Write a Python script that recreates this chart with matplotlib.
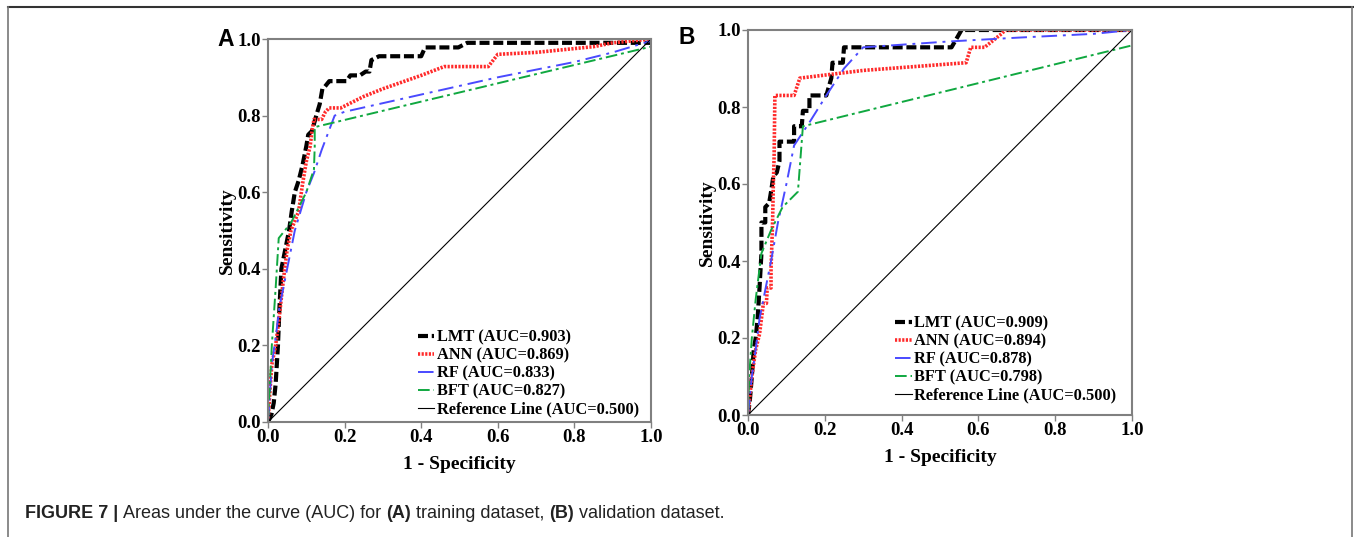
import matplotlib
matplotlib.use('Agg')
import matplotlib.pyplot as plt
from matplotlib.lines import Line2D

# ---- data: panel A (training) ----
lmt_a_x = [0, 0.009, 0.015, 0.02, 0.026, 0.03, 0.035, 0.045, 0.055, 0.062, 0.07, 0.08, 0.09, 0.1, 0.105,
           0.115, 0.126, 0.135, 0.142, 0.148, 0.16, 0.165, 0.205, 0.215, 0.24, 0.255, 0.265, 0.27, 0.29,
           0.4, 0.41, 0.497, 0.52, 1.0, 1.0]
lmt_a_y = [0, 0.02, 0.05, 0.1, 0.2, 0.3, 0.4, 0.45, 0.5, 0.55, 0.6, 0.63, 0.67, 0.72, 0.75,
           0.76, 0.8, 0.83, 0.87, 0.875, 0.89, 0.89, 0.89, 0.905, 0.905, 0.915, 0.915, 0.945, 0.955,
           0.955, 0.978, 0.978, 0.99, 0.99, 1.0]
ann_a_x = [0, 0.005, 0.01, 0.02, 0.03, 0.04, 0.05, 0.06, 0.08, 0.09, 0.1, 0.11, 0.115, 0.12, 0.14, 0.15,
           0.16, 0.19, 0.25, 0.3, 0.4, 0.46, 0.575, 0.6, 0.7, 0.85, 0.9, 1.0]
ann_a_y = [0, 0.08, 0.15, 0.2, 0.28, 0.37, 0.45, 0.5, 0.55, 0.62, 0.68, 0.72, 0.76, 0.79, 0.79, 0.81,
           0.82, 0.82, 0.85, 0.87, 0.905, 0.928, 0.928, 0.96, 0.965, 0.98, 0.99, 1.0]
rf_a_x = [0, 0.01, 0.02, 0.03, 0.05, 0.07, 0.1, 0.12, 0.14, 0.174, 0.2, 0.4, 0.6, 0.8, 0.9, 1.0]
rf_a_y = [0, 0.15, 0.22, 0.3, 0.4, 0.5, 0.6, 0.65, 0.71, 0.8, 0.81, 0.855, 0.9, 0.94, 0.965, 0.995]
bft_a_x = [0, 0.005, 0.01, 0.02, 0.028, 0.06, 0.1, 0.12, 0.122, 0.122, 1.0, 1.0]
bft_a_y = [0, 0.1, 0.2, 0.35, 0.48, 0.52, 0.6, 0.66, 0.72, 0.77, 0.98, 1.0]

# ---- data: panel B (validation) ----
lmt_b_x = [0, 0.005, 0.01, 0.015, 0.02, 0.025, 0.03, 0.035, 0.035, 0.045, 0.045, 0.055, 0.06, 0.066,
           0.075, 0.082, 0.082, 0.12, 0.12, 0.14, 0.143, 0.16, 0.16, 0.204, 0.217, 0.22, 0.247, 0.25,
           0.53, 0.556, 1.0]
lmt_b_y = [0, 0.04, 0.1, 0.17, 0.2, 0.25, 0.33, 0.42, 0.5, 0.5, 0.54, 0.55, 0.58, 0.62, 0.63, 0.66,
           0.71, 0.71, 0.75, 0.75, 0.79, 0.79, 0.83, 0.83, 0.875, 0.915, 0.915, 0.955, 0.955, 1.0, 1.0]
ann_b_x = [0, 0.005, 0.01, 0.02, 0.03, 0.035, 0.04, 0.048, 0.05, 0.06, 0.06, 0.064, 0.066, 0.068, 0.07,
           0.12, 0.135, 0.3, 0.568, 0.58, 0.616, 0.66, 0.67, 1.0]
ann_b_y = [0, 0.05, 0.1, 0.17, 0.21, 0.25, 0.29, 0.29, 0.33, 0.33, 0.38, 0.5, 0.6, 0.67, 0.83,
           0.83, 0.875, 0.895, 0.915, 0.955, 0.955, 0.99, 1.0, 1.0]
rf_b_x = [0, 0.01, 0.02, 0.03, 0.04, 0.06, 0.078, 0.1, 0.12, 0.16, 0.204, 0.25, 0.3, 0.52, 0.7, 0.9, 1.0]
rf_b_y = [0, 0.1, 0.17, 0.25, 0.3, 0.4, 0.5, 0.6, 0.7, 0.76, 0.83, 0.9, 0.955, 0.97, 0.98, 0.99, 1.0]
bft_b_x = [0, 0.003, 0.01, 0.02, 0.035, 0.06, 0.09, 0.13, 0.143, 1.0, 1.0]
bft_b_y = [0, 0.1, 0.2, 0.3, 0.42, 0.48, 0.54, 0.58, 0.75, 0.96, 1.0]

auc_a = ['0.903', '0.869', '0.833', '0.827']
auc_b = ['0.909', '0.894', '0.878', '0.798']
models = ['LMT', 'ANN', 'RF', 'BFT']
ticks = [0.0, 0.2, 0.4, 0.6, 0.8, 1.0]

styles = [dict(color='black', lw=3.0, ls=(0, (2.4, 0.9))),
          dict(color='#ff2a2a', lw=2.6, ls=(0, (0.6, 0.4))),
          dict(color='#4a4aff', lw=1.4, ls=(0, (8, 3, 1.5, 3))),
          dict(color='#10a840', lw=1.4, ls=(0, (6, 2, 1.5, 2)))]

serif = 'Liberation Serif'

fig = plt.figure(figsize=(13.54, 5.37), dpi=100)
axA = fig.add_axes([268 / 1354, 115 / 537, 383 / 1354, 383 / 537])
axB = fig.add_axes([748 / 1354, 122 / 537, 384 / 1354, 385 / 537])


def draw(ax, curves, aucs, anchor):
    for (x, y), st, m, a in zip(curves, styles, models, aucs):
        ax.plot(x, y, label='%s (AUC=%s)' % (m, a), **st)
    ax.plot([0, 1], [0, 1], color='black', lw=0.8, label='Reference Line (AUC=0.500)')
    ax.set_xlim(0, 1)
    ax.set_ylim(0, 1)
    ax.set_xticks(ticks)
    ax.set_yticks(ticks)
    ax.set_xticklabels(['%.1f' % t for t in ticks])
    ax.set_yticklabels(['%.1f' % t for t in ticks])
    for lab in ax.get_xticklabels() + ax.get_yticklabels():
        lab.set_fontfamily(serif)
        lab.set_fontweight('bold')
        lab.set_fontsize(13.5)
    ax.tick_params(direction='out', length=4, width=1, color='#808080', pad=1)
    for s in ax.spines.values():
        s.set_color('#808080')
        s.set_linewidth(1.5)
    ax.set_xlabel('1 - Specificity', fontfamily=serif, fontweight='bold', fontsize=14, labelpad=7)
    ax.set_ylabel('Sensitivity', fontfamily=serif, fontweight='bold', fontsize=14, labelpad=1)
    ax.legend(loc='upper left', bbox_to_anchor=anchor, frameon=False, borderpad=0,
              handlelength=1.0, handletextpad=0.15, labelspacing=0.12,
              prop=dict(family=serif, weight='bold', size=11.8))


draw(axA, [(lmt_a_x, lmt_a_y), (ann_a_x, ann_a_y), (rf_a_x, rf_a_y), (bft_a_x, bft_a_y)], auc_a,
     (0.37, 0.262))
draw(axB, [(lmt_b_x, lmt_b_y), (ann_b_x, ann_b_y), (rf_b_x, rf_b_y), (bft_b_x, bft_b_y)], auc_b,
     (0.362, 0.28))

fig.text(217 / 1354, 1 - 46 / 537, 'A', fontfamily='Liberation Sans', fontweight='bold', fontsize=16.5)
fig.text(678 / 1354, 1 - 44 / 537, 'B', fontfamily='Liberation Sans', fontweight='bold', fontsize=16.5)

# outer frame
fig.add_artist(Line2D([8 / 1354, 1353 / 1354], [1 - 7 / 537, 1 - 7 / 537], color='#333333', lw=1.5))
fig.add_artist(Line2D([8 / 1354, 8 / 1354], [0, 1 - 7 / 537], color='#777777', lw=1.2))
fig.add_artist(Line2D([1352 / 1354, 1352 / 1354], [0, 1 - 7 / 537], color='#777777', lw=1.2))

# caption with mixed weights
pieces = [('FIGURE 7 | ', 'bold'), ('Areas under the curve (AUC) for ', 'normal'), ('(A)', 'bold'),
          (' training dataset, ', 'normal'), ('(B)', 'bold'), (' validation dataset.', 'normal')]
renderer = fig.canvas.get_renderer()
xpos = 25
for txt, w in pieces:
    t = fig.text(xpos / 1354, 1 - 518 / 537, txt, fontfamily='Liberation Sans', fontweight=w,
                 fontsize=13, color='#222222')
    bb = t.get_window_extent(renderer=renderer)
    xpos += bb.width

fig.savefig('out.png', dpi=100)
